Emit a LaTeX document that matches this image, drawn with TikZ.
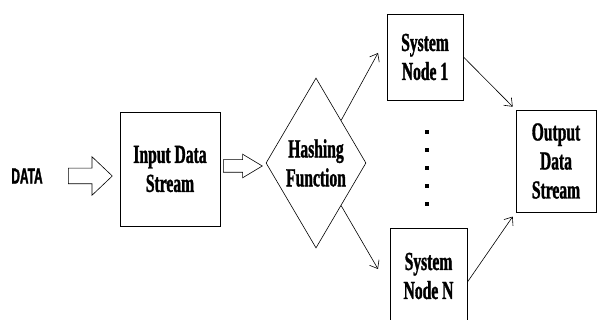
\documentclass[tikz,border=0pt]{standalone}
\usepackage{fontspec}
\setmainfont{Liberation Serif}[FakeStretch=0.6, BoldFeatures={FakeBold=1.2}]
\newfontfamily\datafont{Liberation Sans}[FakeStretch=0.54, BoldFeatures={FakeBold=1.5}]
\usetikzlibrary{shapes.geometric,shapes.arrows,arrows.meta}

\tikzset{
  box/.style={rectangle, draw, line width=0.9pt, align=center,
    font=\fontsize{26}{29}\selectfont\bfseries},
  hollow/.style={single arrow, draw, line width=0.6pt, inner xsep=0pt,
    single arrow head indent=0pt, anchor=tail},
  conn/.style={-{Straight Barb[length=7pt,width=11pt]}, line width=0.6pt}
}

\begin{document}
\begin{tikzpicture}[x=1pt, y=-1pt]
  \useasboundingbox (0,0) rectangle (597,320);

  % Ingresso
  \node[font=\datafont\fontsize{22}{24}\selectfont\bfseries] (data) at (27,176) {DATA};
  \node[hollow, inner ysep=7.5pt, single arrow head extend=11.5pt,
        minimum height=44pt, single arrow tip angle=87] (arr1) at (68,176) {};
  \node[box, minimum width=100pt, minimum height=114pt] (input) at (170,169) {Input Data\\Stream};
  \node[hollow, inner ysep=6pt, single arrow head extend=5.5pt,
        minimum height=39pt, single arrow tip angle=62] (arr2) at (223,166) {};

  % Funzione di hash
  \node[diamond, draw, line width=0.6pt, inner sep=0pt, aspect=0.6,
        minimum width=100pt, minimum height=170pt, align=center,
        font=\fontsize{26}{29}\selectfont\bfseries] (hash) at (316,163) {Hashing\\Function};

  % Nodi del sistema
  \node[box, minimum width=76pt, minimum height=86pt] (node1) at (425,57) {System\\Node 1};
  \node[box, minimum width=77pt, minimum height=96pt] (nodeN) at (428.5,276) {System\\Node N};
  \foreach \y in {132,150,168,186,204}
    \fill (425,\y-2) rectangle (429,\y+2);

  % Uscita
  \node[box, minimum width=80pt, minimum height=102pt] (out) at (556,161) {Output\\Data\\Stream};

  % Collegamenti
  \coordinate (end1) at (378,53);
  \coordinate (endN) at (378,269);
  \draw[conn] (hash.north east) -- (end1);
  \draw[conn] (hash.south east) -- (endN);
  \draw[conn, shorten >=4pt] (node1.east) -- (out.north west);
  \draw[conn, shorten >=5pt] ([yshift=-6pt]nodeN.east) -- (out.south west);
\end{tikzpicture}
\end{document}
